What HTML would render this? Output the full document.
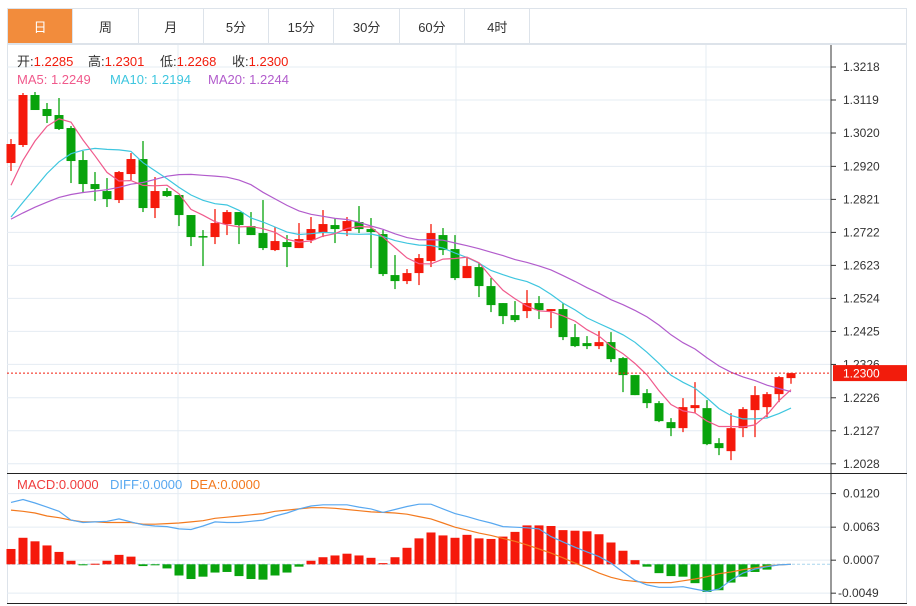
<!DOCTYPE html>
<html><head><meta charset="utf-8">
<style>
body{margin:0;background:#fff;width:916px;height:606px;overflow:hidden;font-family:"Liberation Sans","Noto Sans CJK SC",sans-serif;}
#tabs{position:absolute;left:7px;top:8px;width:900px;height:36px;border:1px solid #dde3ea;box-sizing:border-box;display:flex;}
.tab{width:65.3px;height:100%;border-right:1px solid #dde3ea;box-sizing:border-box;display:flex;align-items:center;justify-content:center;font-size:13px;color:#333;}
.tab.active{background:#f28c3c;color:#fff;}
svg{position:absolute;left:0;top:0;}
</style></head><body>
<div id="tabs">
<div class="tab active">日</div>
<div class="tab">周</div>
<div class="tab">月</div>
<div class="tab">5分</div>
<div class="tab">15分</div>
<div class="tab">30分</div>
<div class="tab">60分</div>
<div class="tab">4时</div>
</div>
<svg id="chart" width="916" height="606"></svg>
<script>
const opens=[1.2930,1.2984,1.3134,1.3092,1.3074,1.3035,1.2939,1.2867,1.2846,1.2819,1.2897,1.2942,1.2795,1.2846,1.2834,1.2774,1.2711,1.2708,1.2747,1.2783,1.2741,1.2720,1.2669,1.2693,1.2675,1.2699,1.2720,1.2744,1.2726,1.2753,1.2732,1.2717,1.2594,1.2576,1.2600,1.2636,1.2714,1.2672,1.2585,1.2618,1.2561,1.2510,1.2474,1.2486,1.2510,1.2486,1.2492,1.2408,1.2390,1.2381,1.2393,1.2345,1.2294,1.2240,1.2210,1.2153,1.2135,1.2195,1.2195,1.2090,1.2066,1.2135,1.2189,1.2198,1.2237,1.2285];
const closes=[1.2987,1.3134,1.3089,1.3071,1.3032,1.2936,1.2867,1.2852,1.2822,1.2903,1.2942,1.2795,1.2846,1.2831,1.2774,1.2708,1.2708,1.2750,1.2783,1.2744,1.2714,1.2675,1.2696,1.2678,1.2702,1.2732,1.2747,1.2732,1.2756,1.2732,1.2723,1.2597,1.2576,1.2600,1.2645,1.2720,1.2669,1.2585,1.2621,1.2561,1.2504,1.2471,1.2459,1.2510,1.2489,1.2492,1.2408,1.2381,1.2381,1.2393,1.2342,1.2294,1.2234,1.2210,1.2156,1.2135,1.2198,1.2204,1.2087,1.2075,1.2135,1.2192,1.2234,1.2237,1.2288,1.2300];
const highs=[1.3002,1.3140,1.3143,1.3110,1.3125,1.3041,1.2966,1.2903,1.2885,1.2906,1.2960,1.2996,1.2888,1.2855,1.2834,1.2774,1.2729,1.2792,1.2789,1.2783,1.2783,1.2819,1.2738,1.2714,1.2750,1.2768,1.2789,1.2765,1.2768,1.2801,1.2765,1.2729,1.2654,1.2612,1.2657,1.2747,1.2735,1.2714,1.2645,1.2630,1.2585,1.2510,1.2516,1.2549,1.2531,1.2492,1.2510,1.2447,1.2411,1.2426,1.2423,1.2348,1.2294,1.2252,1.2216,1.2165,1.2225,1.2273,1.2219,1.2105,1.2180,1.2198,1.2261,1.2243,1.2291,1.2301];
const lows=[1.2906,1.2978,1.3089,1.3050,1.3029,1.2870,1.2840,1.2816,1.2798,1.2810,1.2879,1.2783,1.2765,1.2828,1.2741,1.2681,1.2621,1.2687,1.2714,1.2687,1.2714,1.2669,1.2666,1.2618,1.2675,1.2690,1.2708,1.2690,1.2711,1.2720,1.2615,1.2591,1.2552,1.2567,1.2564,1.2618,1.2654,1.2579,1.2585,1.2528,1.2483,1.2447,1.2453,1.2465,1.2462,1.2435,1.2399,1.2378,1.2372,1.2372,1.2333,1.2243,1.2234,1.2195,1.2153,1.2111,1.2123,1.2180,1.2084,1.2054,1.2039,1.2108,1.2108,1.2168,1.2213,1.2268];
const priorCloses=[1.2760,1.2750,1.2770,1.2745,1.2760,1.2750,1.2765,1.2740,1.2760,1.2755,1.2690,1.2660,1.2640,1.2680,1.2695,1.2760,1.2800,1.2850,1.2920];
const priceTicks=[1.3218,1.3119,1.3020,1.2920,1.2821,1.2722,1.2623,1.2524,1.2425,1.2326,1.2226,1.2127,1.2028];
const macdHist=[0.0026,0.0045,0.0039,0.0032,0.0021,0.0006,-0.0001,0.0001,0.0006,0.0016,0.0013,-0.0003,-0.0001,-0.0007,-0.0019,-0.0025,-0.0021,-0.0014,-0.0013,-0.0020,-0.0025,-0.0026,-0.0019,-0.0014,-0.0004,0.0006,0.0012,0.0015,0.0018,0.0015,0.0011,0.0002,0.0012,0.0028,0.0044,0.0054,0.0049,0.0045,0.0050,0.0044,0.0043,0.0047,0.0055,0.0066,0.0066,0.0065,0.0058,0.0057,0.0056,0.0051,0.0037,0.0023,0.0007,-0.0004,-0.0015,-0.0020,-0.0021,-0.0032,-0.0047,-0.0044,-0.0031,-0.0021,-0.0013,-0.0009,0,0];
const diffVals=[0.0105,0.0110,0.0104,0.0097,0.0090,0.0075,0.0071,0.0072,0.0073,0.0077,0.0072,0.0067,0.0065,0.0064,0.0060,0.0059,0.0065,0.0072,0.0071,0.0071,0.0073,0.0075,0.0082,0.0087,0.0094,0.0099,0.0101,0.0101,0.0101,0.0097,0.0094,0.0088,0.0093,0.0098,0.0102,0.0102,0.0094,0.0086,0.0081,0.0075,0.0070,0.0064,0.0063,0.0062,0.0060,0.0047,0.0038,0.0029,0.0021,0.0013,0.0002,-0.0013,-0.0027,-0.0035,-0.0039,-0.0039,-0.0038,-0.0042,-0.0046,-0.0042,-0.0027,-0.0015,-0.0008,-0.0004,-0.0001,0];
const deaVals=[0.0092,0.0090,0.0087,0.0082,0.0079,0.0075,0.0072,0.0072,0.0071,0.0071,0.0071,0.0068,0.0068,0.0069,0.0070,0.0072,0.0074,0.0078,0.0080,0.0082,0.0084,0.0086,0.0090,0.0092,0.0094,0.0096,0.0096,0.0095,0.0093,0.0091,0.0089,0.0088,0.0087,0.0085,0.0081,0.0077,0.0070,0.0063,0.0058,0.0053,0.0049,0.0044,0.0039,0.0033,0.0026,0.0019,0.0011,0.0002,-0.0006,-0.0015,-0.0022,-0.0027,-0.0029,-0.0031,-0.0031,-0.0031,-0.0028,-0.0025,-0.0021,-0.0016,-0.0013,-0.0009,-0.0006,-0.0003,-0.0001,0];
const macdTicks=[0.0120,0.0063,0.0007,-0.0049];

const svg=document.getElementById('chart');
const NS='http://www.w3.org/2000/svg';
function mk(tag,attrs,parent){const e=document.createElementNS(NS,tag);for(const k in attrs)e.setAttribute(k,attrs[k]);(parent||svg).appendChild(e);return e;}
const RED='#f5190b',GREEN='#08a30c';
const L=7,R=831;
const xOf=i=>11+i*12;
const yP=p=>67+(1.3218-p)/0.0002999;
const yM=v=>564.3-v*5893;

let e;
e=mk('rect',{x:7.5,y:44.5,width:899,height:559,fill:'none',stroke:'#dde3ea'});


priceTicks.forEach(t=>{const l=mk('line',{x1:L,x2:R,y1:yP(t),y2:yP(t),stroke:'#e4ecf3'});

});
macdTicks.forEach(t=>{const l=mk('line',{x1:L,x2:R,y1:yM(t),y2:yM(t),stroke:'#e4ecf3'});

});
[178,456,706].forEach(x=>{const l=mk('line',{x1:x,x2:x,y1:45,y2:603,stroke:'#e4ecf3'});

});
e=mk('line',{x1:R,x2:R,y1:45,y2:603,stroke:'#333'});


e=mk('line',{x1:L,x2:907,y1:473.5,y2:473.5,stroke:'#222'});


e=mk('line',{x1:L,x2:907,y1:603.5,y2:603.5,stroke:'#222'});


priceTicks.forEach(t=>{const y=yP(t);
const tk=mk('line',{x1:R,x2:R+5,y1:y,y2:y,stroke:'#333'});


const tx=mk('text',{x:843,y:y+4,'font-size':12,fill:'#333'});tx.textContent=t.toFixed(4);

});
macdTicks.forEach(t=>{const y=yM(t);
const tk=mk('line',{x1:R,x2:R+5,y1:y,y2:y,stroke:'#333'});


const tx=mk('text',{x:t<0?838:843,y:y+4,'font-size':12,fill:'#333'});tx.textContent=t.toFixed(4);

});

const all=priorCloses.concat(closes);
function ma(n){return closes.map((c,i)=>{const j=i+priorCloses.length;let s=0,k=0;for(let m=Math.max(0,j-n+1);m<=j;m++){s+=all[m];k++;}return s/k;});}
function line(vals,yf,color,name){const d=vals.map((v,i)=>(i?'L':'M')+xOf(i)+','+yf(v).toFixed(1)).join('');
const p=mk('path',{d:d,fill:'none',stroke:color,'stroke-width':1.2});

}

closes.forEach((c,i)=>{const o=opens[i],up=c>=o,col=up?RED:GREEN,x=xOf(i);
const g=mk('g',{});


mk('line',{x1:x,x2:x,y1:yP(highs[i]),y2:yP(lows[i]),stroke:col,'stroke-width':1.3},g);
const t=yP(Math.max(o,c)),b=yP(Math.min(o,c));
mk('rect',{x:x-4.5,y:t,width:9,height:Math.max(1.5,b-t),fill:col},g);});
line(ma(20),yP,'#b25ccc','ma20-line');
line(ma(10),yP,'#3ec6df','ma10-line');
line(ma(5),yP,'#f05a8c','ma5-line');

const lp=closes[closes.length-1];
e=mk('line',{x1:L,x2:R,y1:yP(lp),y2:yP(lp),stroke:'#f21c0c','stroke-dasharray':'2,2'});


e=mk('rect',{x:833,y:yP(lp)-8,width:74,height:16,fill:'#f21c0c'});


e=mk('text',{x:843,y:yP(lp)+4.5,'font-size':12,fill:'#fff'});e.textContent=lp.toFixed(4);



e=mk('line',{x1:L,x2:R,y1:yM(0),y2:yM(0),stroke:'#a9d6ee','stroke-dasharray':'3,2'});


macdHist.forEach((v,i)=>{if(v===0)return;const y0=yM(0),y1=yM(v);
const r=mk('rect',{x:xOf(i)-4.5,y:Math.min(y0,y1),width:9,height:Math.max(1,Math.abs(y1-y0)),fill:v>0?RED:GREEN});

});
line(deaVals,yM,'#f37a1f','dea-line');
line(diffVals,yM,'#58a8f0','diff-line');

function txt(x,y,s,col,name,size){const t=mk('text',{x:x,y:y,'font-size':size||13,fill:col});t.textContent=s;

return t;}
function kv(x,label,val,name){const t=mk('text',{x:x,y:66,'font-size':13,fill:'#333'});
t.innerHTML=label+'<tspan fill="#f21c0c">'+val+'</tspan>';

}
kv(17,'开:','1.2285','open-legend');
kv(88,'高:','1.2301','high-legend');
kv(160,'低:','1.2268','low-legend');
kv(232,'收:','1.2300','close-legend');
txt(17,84,'MA5: 1.2249','#f05a8c','ma5-legend');
txt(110,84,'MA10: 1.2194','#3ec6df','ma10-legend');
txt(208,84,'MA20: 1.2244','#b25ccc','ma20-legend');
txt(17,489,'MACD:0.0000','#f03c3c','macd-legend');
txt(110,489,'DIFF:0.0000','#58a8f0','diff-legend');
txt(190,489,'DEA:0.0000','#f37a1f','dea-legend');
</script>
</body></html>
